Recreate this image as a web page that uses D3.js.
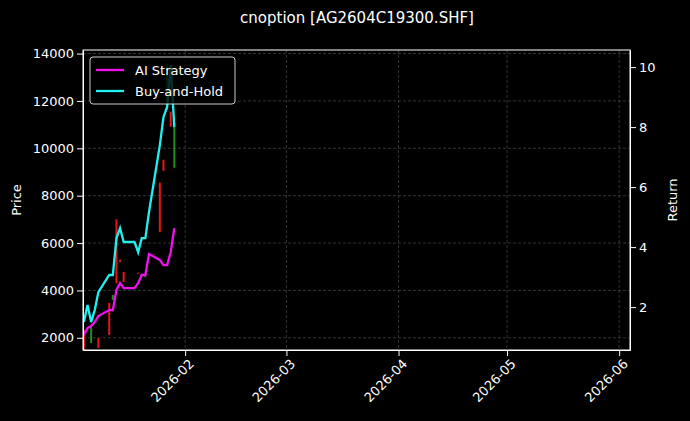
<!DOCTYPE html><html><head><meta charset="utf-8"><script src="https://cdn.jsdelivr.net/npm/d3@7"></script>
<style>body{margin:0;background:#000}text{font-family:"DejaVu Sans";fill:#fff}</style></head><body><svg id="c" width="690" height="421"></svg><script>
const lineDates=["2026-01-04","2026-01-05","2026-01-06","2026-01-07","2026-01-08","2026-01-11","2026-01-12","2026-01-13","2026-01-14","2026-01-15","2026-01-18","2026-01-19","2026-01-20","2026-01-21","2026-01-22","2026-01-25","2026-01-26","2026-01-27","2026-01-28","2026-01-29"];
const aiReturn=[1.07,1.3,1.37,1.5,1.7,1.9,1.9,2.57,2.8,2.63,2.63,2.8,3.07,3.07,3.77,3.57,3.4,3.4,3.83,4.63];
const bhReturn=[1.5,2.07,1.5,1.9,2.5,3.07,3.07,4.3,4.63,4.17,4.17,3.83,4.3,4.3,5.17,7.4,8.33,8.67,10.07,8.0];
const candleDates=["2026-01-04","2026-01-06","2026-01-08","2026-01-11","2026-01-12","2026-01-13","2026-01-14","2026-01-15","2026-01-19","2026-01-21","2026-01-25","2026-01-26","2026-01-27","2026-01-28","2026-01-29"];
const candleOpen=[1500,2460,1570,2120,3810,4300,5200,4360,4700,4600,6470,9050,13580,10910,10910];
const candleClose=[2330,1780,1990,3470,3600,7000,5300,4780,4750,4550,8550,9520,11630,11550,9180];
const priceTicks=[2000,4000,6000,8000,10000,12000,14000];
const retTicks=[2,4,6,8,10];
const monthTicks=["2026-02-01","2026-03-01","2026-04-01","2026-05-01","2026-06-01"];
const pd=d3.timeParse("%Y-%m-%d");
const svg=d3.select("#c");
const L=83,R=630,T=50,B=350;
const x=d3.scaleTime().domain([new Date(2026,0,3,18),new Date(2026,5,4)]).range([L,R]);
const y=d3.scaleLinear().domain([1485,14150]).range([B,T]);
const y2=d3.scaleLinear().domain([0.57,10.57]).range([B,T]);
const g=svg.append("g");
g.selectAll(".gx").data(monthTicks).join("line").attr("x1",d=>x(pd(d))).attr("x2",d=>x(pd(d))).attr("y1",T).attr("y2",B).attr("stroke","#555").attr("stroke-dasharray","3,2").attr("stroke-width",0.6);
g.selectAll(".gy").data(priceTicks).join("line").attr("x1",L).attr("x2",R).attr("y1",d=>y(d)).attr("y2",d=>y(d)).attr("stroke","#555").attr("stroke-dasharray","3,2").attr("stroke-width",0.6);
svg.append("g").selectAll("rect").data(candleDates).join("rect")
 .attr("x",(d,i)=>x(pd(d))-1).attr("width",2)
 .attr("y",(d,i)=>y(Math.max(candleOpen[i],candleClose[i])))
 .attr("height",(d,i)=>Math.abs(y(candleOpen[i])-y(candleClose[i])))
 .attr("fill",(d,i)=>candleClose[i]>=candleOpen[i]?"#ff1a1a":"#1fa01f").attr("opacity",0.9);
const ln=d3.line().x((d,i)=>x(pd(lineDates[i]))).y(d=>y2(d));
svg.append("path").attr("d",ln(bhReturn)).attr("fill","none").attr("stroke","#22f0f0").attr("stroke-width",2.3);
svg.append("path").attr("d",ln(aiReturn)).attr("fill","none").attr("stroke","#f010f0").attr("stroke-width",2.3);
const ax=svg.append("g").attr("transform",`translate(0,${B})`).call(d3.axisBottom(x).tickValues(monthTicks.map(pd)).tickFormat(d3.timeFormat("%Y-%m")).tickSizeOuter(0));
ax.selectAll("text").attr("transform","rotate(-45)").attr("text-anchor","end").attr("dx","-0.3em").attr("dy","0.6em").style("font-size","13px");
const ay=svg.append("g").attr("transform",`translate(${L},0)`).call(d3.axisLeft(y).tickValues(priceTicks).tickFormat(d3.format("d")).tickSizeOuter(0));
ay.selectAll("text").style("font-size","13px");
const ay2=svg.append("g").attr("transform",`translate(${R},0)`).call(d3.axisRight(y2).tickValues(retTicks).tickSizeOuter(0));
ay2.selectAll("text").style("font-size","13px");
svg.selectAll(".domain,.tick line").attr("stroke","#fff");
svg.append("rect").attr("x",L).attr("y",T).attr("width",R-L).attr("height",B-T).attr("fill","none").attr("stroke","#fff");
svg.append("text").attr("x",357).attr("y",23).attr("text-anchor","middle").style("font-size","15px").text("cnoption [AG2604C19300.SHF]");
svg.append("text").attr("transform","translate(21,200) rotate(-90)").attr("text-anchor","middle").style("font-size","13px").text("Price");
svg.append("text").attr("transform","translate(677,200) rotate(-90)").attr("text-anchor","middle").style("font-size","13px").text("Return");
const lg=svg.append("g");
lg.append("rect").attr("x",90).attr("y",57).attr("width",145).attr("height",47).attr("rx",3).attr("fill","#000").attr("fill-opacity",0.8).attr("stroke","#ccc");
[["AI Strategy","#f010f0"],["Buy-and-Hold","#22f0f0"]].forEach((d,i)=>{
 lg.append("line").attr("x1",96).attr("x2",124).attr("y1",70+i*21).attr("y2",70+i*21).attr("stroke",d[1]).attr("stroke-width",2.3);
 lg.append("text").attr("x",135).attr("y",75+i*21).style("font-size","13px").text(d[0]);
});
</script></body></html>
